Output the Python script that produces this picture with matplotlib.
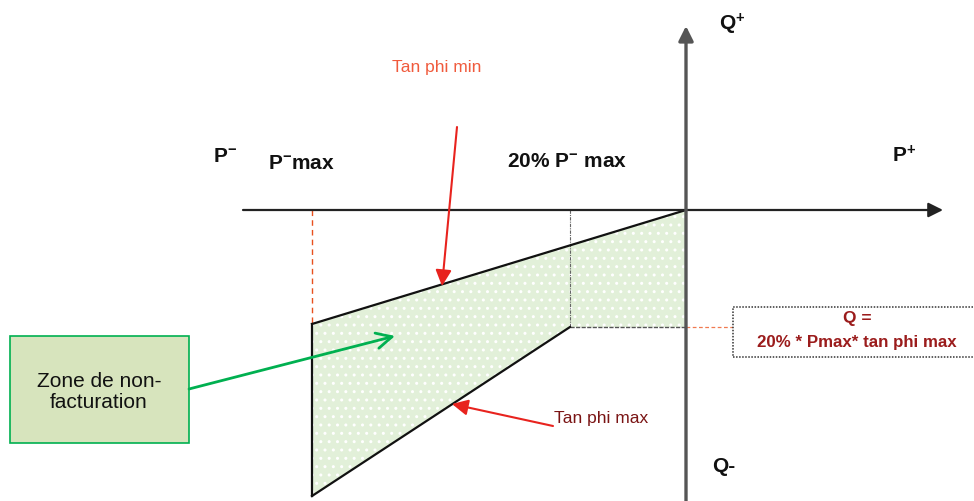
import matplotlib

matplotlib.use("Agg")

import matplotlib.pyplot as plt
from matplotlib.patches import Polygon, Rectangle

plt.rcParams["font.family"] = ["Liberation Sans", "DejaVu Sans"]
plt.rcParams["mathtext.fontset"] = "custom"
plt.rcParams["mathtext.rm"] = "Liberation Sans:bold"
plt.rcParams["mathtext.it"] = "Liberation Sans:bold"
plt.rcParams["mathtext.bf"] = "Liberation Sans:bold"

# repère P/Q (unités ~ pixels, origine au croisement des axes)
P_MAX = -374
P_20 = -116
Q_TAN_MIN_AT_PMAX = -114
Q_FLOOR = -117          # Q = 20% * Pmax * tan phi max
Q_TAN_MAX_AT_PMAX = -286

zone_p = [0, P_MAX, P_MAX, P_20, 0]
zone_q = [0, Q_TAN_MIN_AT_PMAX, Q_TAN_MAX_AT_PMAX, Q_FLOOR, Q_FLOOR]

tan_min_p = [0, P_MAX]
tan_min_q = [0, Q_TAN_MIN_AT_PMAX]
tan_max_p = [P_MAX, P_20]
tan_max_q = [Q_TAN_MAX_AT_PMAX, Q_FLOOR]

AX_P = (-443, 257)
AX_Q = (-291, 184)

fig = plt.figure(figsize=(9.74, 5.02), dpi=100)
ax = fig.add_axes([0, 0, 1, 1])
ax.set_xlim(-686, 288)
ax.set_ylim(-291, 211)
ax.axis("off")

# zone de non-facturation
ax.add_patch(Polygon(list(zip(zone_p, zone_q)), closed=True,
                     facecolor="#e2f0d9", edgecolor="none", zorder=1))
ax.add_patch(Polygon(list(zip(zone_p, zone_q)), closed=True, facecolor="none",
                     edgecolor="white", hatch="..", lw=0, zorder=1.5))

# bornes
ax.plot(tan_min_p, tan_min_q, color="#111111", lw=1.6, zorder=3)
ax.plot([P_MAX, P_MAX], [Q_TAN_MIN_AT_PMAX, Q_TAN_MAX_AT_PMAX], color="#111111", lw=1.6, zorder=3)
ax.plot(tan_max_p, tan_max_q, color="#111111", lw=1.6, zorder=3)
ax.plot([P_MAX, P_MAX], [0, Q_TAN_MIN_AT_PMAX], color="#e8501e", lw=1, ls=(0, (4, 3)), zorder=2)
ax.plot([P_20, P_20], [0, Q_FLOOR], color="#666666", lw=0.8, ls=(0, (3, 1, 1, 1)), zorder=2)
ax.plot([P_20, 0], [Q_FLOOR, Q_FLOOR], color="#555555", lw=1, ls=(0, (3, 1)), zorder=2)
ax.plot([0, 47], [Q_FLOOR, Q_FLOOR], color="#f07a50", lw=0.9, ls=(0, (3, 2)), zorder=2)

# axes P et Q
ax.annotate("", xy=(AX_P[1], 0), xytext=(AX_P[0], 0),
            arrowprops=dict(arrowstyle="-|>", color="#222222", lw=1.6,
                            mutation_scale=22, shrinkA=0, shrinkB=0), zorder=4)
ax.annotate("", xy=(0, AX_Q[1]), xytext=(0, AX_Q[0]),
            arrowprops=dict(arrowstyle="-|>", color="#555555", lw=2.4,
                            mutation_scale=22, shrinkA=0, shrinkB=0), zorder=4)

bold = dict(fontsize=15, fontweight="bold", color="#111111")
ax.text(-473, 49, "P$^{-}$", **bold)
ax.text(-418, 42, "P$^{-}$max", **bold)
ax.text(-179, 44, "20% P$^{-}$ max", **bold)
ax.text(206, 49, "P$^{+}$", **bold)
ax.text(33, 181, "Q$^{+}$", **bold)
ax.text(26, -261, "Q-", **bold)

# annotations tan phi
ax.text(-294, 139, "Tan phi min", fontsize=12.5, color="#f05a3c")
ax.annotate("", xy=(-244, -76), xytext=(-229, 83),
            arrowprops=dict(arrowstyle="-|>", color="#e8231e", lw=1.5,
                            mutation_scale=24, shrinkA=0, shrinkB=0), zorder=5)
ax.text(-132, -212, "Tan phi max", fontsize=12.5, color="#7a1414")
ax.annotate("", xy=(-234, -194), xytext=(-133, -216),
            arrowprops=dict(arrowstyle="-|>", color="#e8231e", lw=1.5,
                            mutation_scale=24, shrinkA=0, shrinkB=0), zorder=5)

# encadré Q = 20% ...
ax.add_patch(Rectangle((47, -147), 260, 50, facecolor="white", edgecolor="#333333",
                       lw=1.1, ls=(0, (1, 1)), zorder=2))
ax.text(171, -112, "Q =", fontsize=12.5, fontweight="bold", color="#9b1c1c", ha="center")
ax.text(171, -136, "20% * Pmax* tan phi max", fontsize=12.2, fontweight="bold",
        color="#9b1c1c", ha="center")

# encadré vert
ax.add_patch(Rectangle((-676, -233), 179, 107, facecolor="#d7e4bd", edgecolor="#00b050",
                       lw=1.2, zorder=6))
ax.text(-587, -181, "Zone de non-\nfacturation", fontsize=15, color="#111111",
        ha="center", va="center", linespacing=1.15, zorder=7)
ax.annotate("", xy=(-291, -126), xytext=(-497, -179),
            arrowprops=dict(arrowstyle="->", color="#00b050", lw=2,
                            mutation_scale=28, shrinkA=0, shrinkB=0), zorder=6)

fig.savefig("out.png", dpi=100, facecolor="white")
